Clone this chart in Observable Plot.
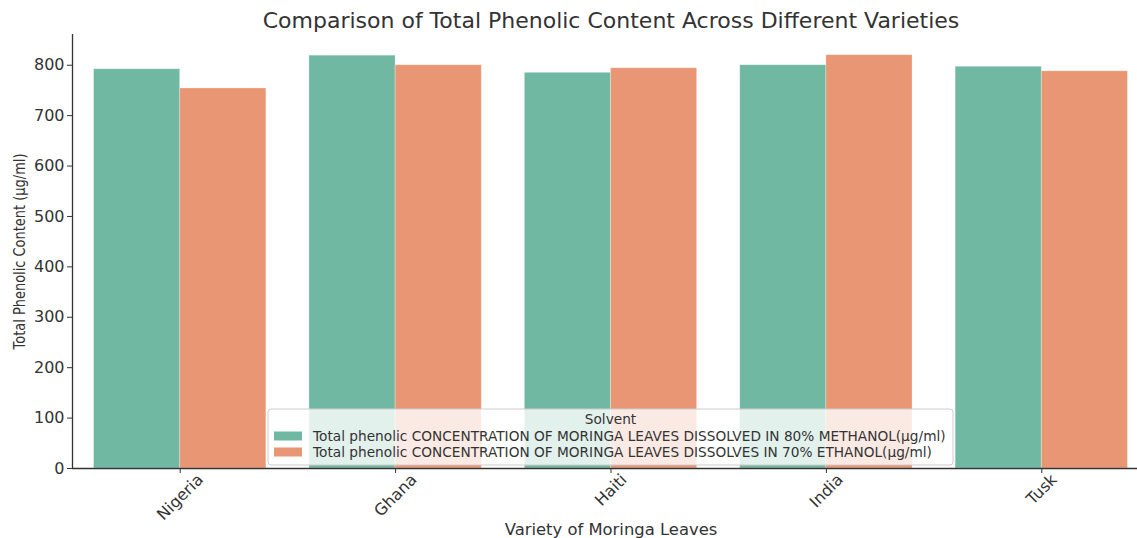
<!DOCTYPE html>
<html><head><meta charset="utf-8">
<script src="https://cdn.jsdelivr.net/npm/d3@7"></script>
<script src="https://cdn.jsdelivr.net/npm/@observablehq/plot@0.6"></script>
<style>
html,body{margin:0;padding:0;background:#fff;overflow:hidden}
svg{display:block}
</style>
</head><body><div id="chart"></div>
<script>
const title = "Comparison of Total Phenolic Content Across Different Varieties";
const xLabel = "Variety of Moringa Leaves";
const yLabel = "Total Phenolic Content (µg/ml)";
const legendTitle = "Solvent";
const varieties = ["Nigeria", "Ghana", "Haiti", "India", "Tusk"];
const solvents = [
  "Total phenolic CONCENTRATION OF MORINGA LEAVES DISSOLVED IN 80% METHANOL(µg/ml)",
  "Total phenolic CONCENTRATION OF MORINGA LEAVES DISSOLVES IN 70% ETHANOL(µg/ml)"
];
const methanol = [792, 819, 785, 800, 797];
const ethanol = [754, 800, 794, 820, 788];
const yTicks = [0, 100, 200, 300, 400, 500, 600, 700, 800];
const colors = ["#70b8a1", "#e99675"];

const series = [methanol, ethanol];
const rows = [];
varieties.forEach((v, i) => series.forEach((s, j) => rows.push({variety: v, i, j, solvent: solvents[j], value: s[i]})));

const W = 1137, H = 538;
const mL = 72, mT = 34, mB = 70;
const yMax = d3.max(rows, d => d.value) * 1.05;
const FONT = "DejaVu Sans";
const tickFs = 16;

// measure label widths to place rotated labels like matplotlib (ha=center)
const ctx = document.createElement("canvas").getContext("2d");
ctx.font = `${tickFs}px "${FONT}"`;
const labelMarks = varieties.map((v, i) => {
  const L = ctx.measureText(v).width;
  const dy = 4 + (L + tickFs * 0.8) * 0.3535;
  return Plot.text([v], {x: () => i, frameAnchor: "bottom", lineAnchor: "middle", textAnchor: "middle", dy, rotate: -45, fontSize: tickFs, fill: "#333"});
});

const plot = Plot.plot({
  width: W, height: H,
  marginLeft: mL, marginTop: mT, marginBottom: mB, marginRight: 0,
  style: {fontFamily: FONT, fontSize: "16px", color: "#333", background: "#fff"},
  x: {type: "linear", domain: [-0.5, varieties.length - 0.5], range: [mL, mL + 1077], ticks: varieties.map((_, i) => i), tickFormat: () => "", tickSize: 5, label: null},
  y: {domain: [0, yMax], ticks: yTicks, tickSize: 5, tickPadding: 3, label: null},
  color: {domain: solvents, range: colors},
  marks: [
    Plot.rectY(rows, {x1: d => d.i - 0.4 + 0.4 * d.j, x2: d => d.i + 0.4 * d.j, y1: 0, y2: "value", fill: "solvent", stroke: "#fff", strokeOpacity: 0.35, strokeWidth: 0.8}),
    Plot.ruleX([-0.5], {y1: 0, y2: yMax, stroke: "#333", strokeWidth: 1.3}),
    Plot.ruleY([0], {x1: -0.5, x2: varieties.length - 0.5, stroke: "#333", strokeWidth: 1.3}),
    ...labelMarks,
    Plot.text([title], {x: () => (varieties.length - 1) / 2, frameAnchor: "top", lineAnchor: "middle", textAnchor: "middle", dy: -14, fontSize: 22, fill: "#333"}),
    Plot.text([xLabel], {x: () => (varieties.length - 1) / 2, frameAnchor: "bottom", lineAnchor: "middle", textAnchor: "middle", dy: 61, fontSize: 16.4, fill: "#333"}),
    Plot.text([yLabel], {frameAnchor: "left", lineAnchor: "middle", textAnchor: "middle", dx: -52, rotate: -90, fontSize: 15, fill: "#333", className: "ylab"})
  ]
});
document.getElementById("chart").appendChild(plot);

const svg = d3.select(plot);
svg.selectAll(".ylab text").attr("textLength", 196).attr("lengthAdjust", "spacingAndGlyphs");

// legend (matplotlib-like, lower center, semi-transparent frame)
const xs = plot.scale("x");
const cx = xs.apply((varieties.length - 1) / 2);
const lw = 685, lh = 56;
const lx = cx - lw / 2, ly = H - mB - 3 - lh;
const lg = svg.append("g").attr("font-family", FONT);
lg.append("rect").attr("x", lx).attr("y", ly).attr("width", lw).attr("height", lh)
  .attr("rx", 3).attr("fill", "#fff").attr("fill-opacity", 0.8).attr("stroke", "#cccccc").attr("stroke-width", 1);
lg.append("text").attr("x", cx).attr("y", ly + 10).attr("dy", "0.35em").attr("text-anchor", "middle")
  .attr("font-size", 13.7).attr("fill", "#333").text(legendTitle);
solvents.forEach((s, j) => {
  const yy = ly + 27 + j * 16;
  lg.append("rect").attr("x", lx + 6).attr("y", yy - 4.5).attr("width", 28).attr("height", 9).attr("fill", colors[j]);
  lg.append("text").attr("x", lx + 45).attr("y", yy).attr("dy", "0.35em").attr("text-anchor", "start").attr("font-size", 13.7).attr("fill", "#333").text(s);
});
</script>
</body></html>
